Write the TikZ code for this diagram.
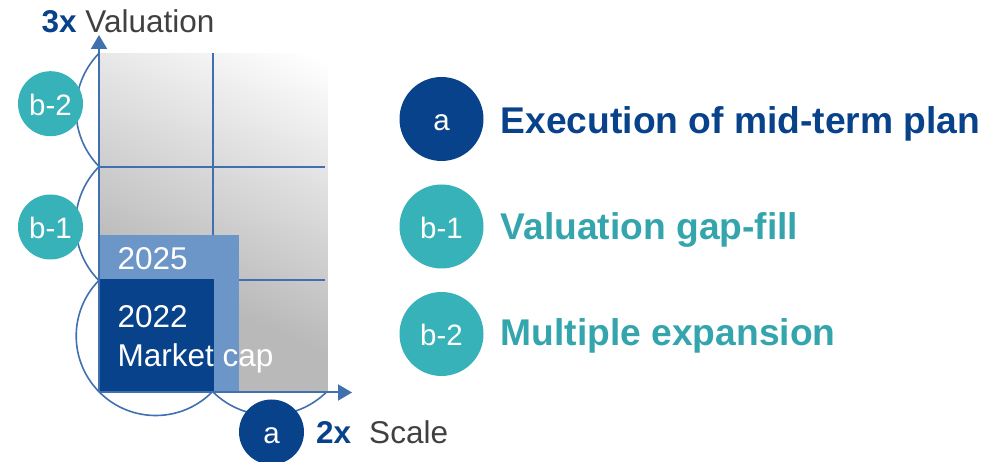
\documentclass[tikz,border=0pt]{standalone}
\usepackage{fontspec}
\setmainfont{Liberation Sans}
\usetikzlibrary{arrows.meta}
\definecolor{dblue}{HTML}{08428A}
\definecolor{tealc}{HTML}{38B2B9}
\definecolor{tealt}{HTML}{35A5AD}
\definecolor{lblue}{HTML}{6C96C7}
\definecolor{axisc}{HTML}{4170AF}
\definecolor{txtgray}{HTML}{404040}
\pgfdeclareverticalshading{gridshade}{100bp}{color(0bp)=(gray!55); color(38bp)=(gray!55); color(82bp)=(white); color(100bp)=(white)}
\tikzset{
  gridline/.style={draw=axisc, line width=1.8pt},
  arcline/.style={draw=axisc, line width=1.6pt},
  axisline/.style={draw=axisc, line width=2pt, -{Triangle[width=16pt,length=14pt]}},
  labcircle/.style={circle, inner sep=0pt, text=white, text height=24pt, text depth=0pt,
     font=\fontsize{29.5}{34}\selectfont},
  smallc/.style={labcircle, minimum size=65pt},
  bigc/.style={labcircle, minimum size=84pt},
  boxtext/.style={anchor=base west, inner sep=0pt, text=white, font=\fontsize{31.5}{36}\selectfont},
  legtext/.style={anchor=base west, inner sep=0pt, font=\fontsize{37.2}{42}\selectfont\bfseries},
  axtext/.style={anchor=base west, inner sep=0pt, text=txtgray, font=\fontsize{31.5}{36}\selectfont}
}
\begin{document}
\begin{tikzpicture}[x=1pt,y=1pt]
\useasboundingbox (0,0) rectangle (1002,462);
% shaded grid area
\shade[shading=gridshade, shading angle=-25] (99,70) rectangle (327.5,408.7);
% grid lines
\draw[gridline] (213.3,70) -- (213.3,408.7);
\draw[gridline] (99,295.3) -- (325,295.3);
\draw[gridline] (99,181.7) -- (325,181.7);
% boxes
\fill[lblue] (99,71) rectangle (239,227);
\fill[dblue] (99,71) rectangle (213.5,183);
\node[boxtext] (t2025) at (117.5,192) {2025};
\node[boxtext] (t2022) at (117.5,134) {2022};
\node[boxtext] (tmc) at (117.5,95) {Market cap};
% arcs
\draw[arcline] (99,408.7) arc[start angle=135.7, end angle=224.3, radius=81];
\draw[arcline] (99,295.3) arc[start angle=135.3, end angle=224.7, radius=81];
\draw[arcline] (99,181.7) arc[start angle=135.5, end angle=315.5, radius=79.5];
\draw[arcline] (213,70) arc[start angle=225.5, end angle=314.5, radius=81];
% axes
\coordinate (O) at (99,69.5);
\coordinate (ytip) at (99,427);
\coordinate (xtip) at (352,69.5);
\draw[axisline] (O) -- (ytip);
\draw[axisline] (O) -- (xtip);
% axis labels
\node[axtext] (ylab) at (41.5,429) {\textcolor{dblue}{\bfseries 3x} Valuation};
\node[axtext] (xlab) at (316,18) {\textcolor{dblue}{\bfseries 2x}\hspace{18pt}Scale};
% circles on chart
\node[smallc, fill=tealc] (cb2) at (50.5,358.3) {b-2};
\node[smallc, fill=tealc] (cb1) at (50.5,235) {b-1};
\node[smallc, fill=dblue] (ca) at (271.5,30) {a};
% legend
\node[bigc, fill=dblue] (la) at (441.5,343) {a};
\node[bigc, fill=tealc] (lb1) at (441.5,235.5) {b-1};
\node[bigc, fill=tealc] (lb2) at (441.5,128) {b-2};
\node[legtext, text=dblue] (ta) at (500.5,328.7) {Execution of mid-term plan};
\node[legtext, text=tealt] (tb1) at (500.5,222.5) {Valuation gap-fill};
\node[legtext, text=tealt] (tb2) at (500.5,116.3) {Multiple expansion};
\end{tikzpicture}
\end{document}
